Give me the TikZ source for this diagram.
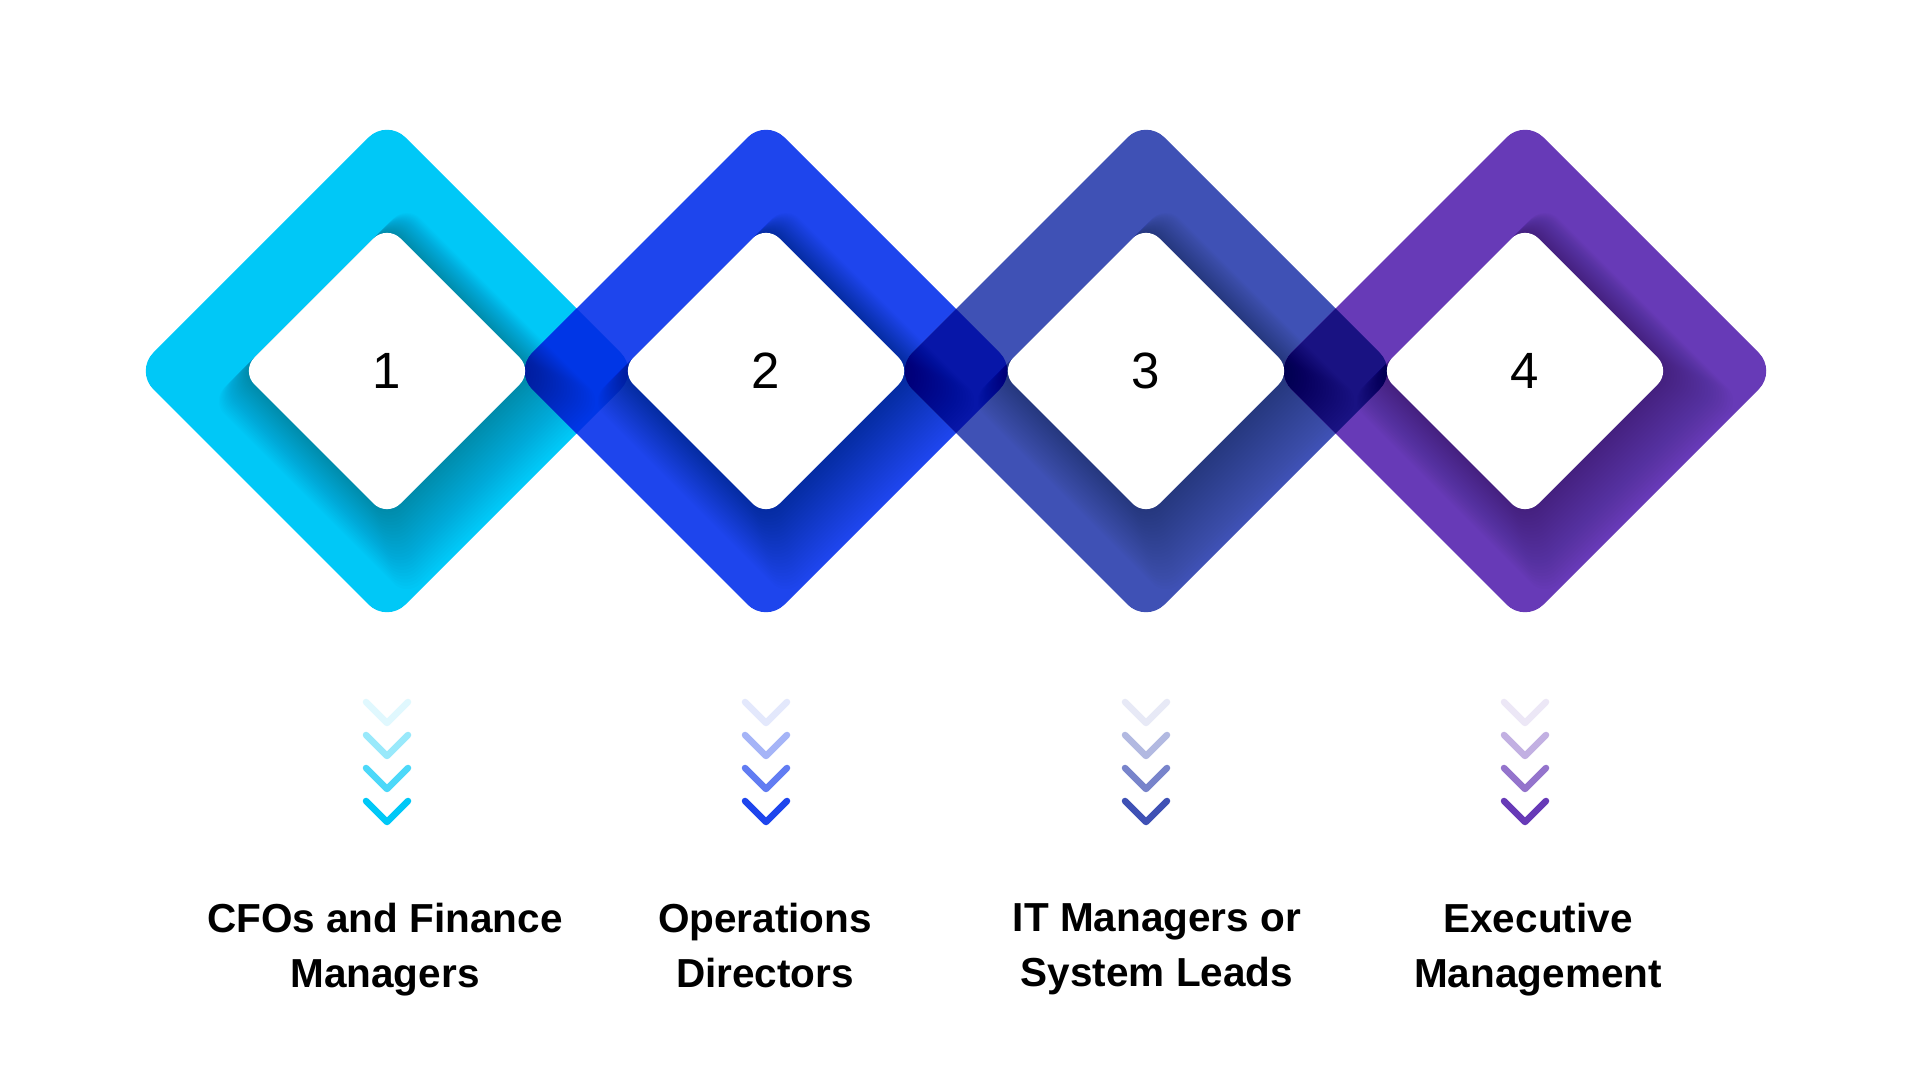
\documentclass[tikz,border=0pt]{standalone}
\usepackage{fontspec}
\setmainfont{Liberation Sans}
\usetikzlibrary{calc}

\definecolor{cyanA}{HTML}{00C8F7}
\definecolor{blueB}{HTML}{1E45ED}
\definecolor{indigoC}{HTML}{3F51B5}
\definecolor{purpleD}{HTML}{673AB7}
\definecolor{mixAB}{RGB}{0,54,230}
\definecolor{mixBC}{RGB}{7,22,168}
\definecolor{mixCD}{RGB}{25,18,130}

% rotated square around #1 with half diagonal #2
\newcommand{\rhomb}[2]{(#1) ++({(#2)/2},{(#2)/2}) -- ++({(#2)/2},{-(#2)/2}) -- ++({-(#2)},{-(#2)}) -- ++({-(#2)},{(#2)}) -- ++({(#2)},{(#2)}) -- cycle}

\begin{document}
\begin{tikzpicture}[x=1pt,y=1pt,
  chev/.style={line width=6.5pt, line cap=round, line join=round},
  num/.style={font=\fontsize{51}{51}\selectfont, inner sep=0pt},
  roletext/.style={font=\fontsize{40.5}{55}\selectfont\bfseries, align=center, anchor=north, inner sep=0pt}]
\useasboundingbox (0,0) rectangle (1920,1080);
\fill[white] (0,0) rectangle (1920,1080);

\coordinate (A) at (387,709);
\coordinate (B) at (766,709);
\coordinate (C) at (1146,709);
\coordinate (D) at (1525,709);

% rings
\foreach \p/\col in {A/cyanA,B/blueB,C/indigoC,D/purpleD}
  \fill[\col, rounded corners=26] \rhomb{\p}{252};

% overlaps
\foreach \p/\q/\col in {A/B/mixAB,B/C/mixBC,C/D/mixCD}{
  \begin{scope}
    \clip[rounded corners=26] \rhomb{\p}{252};
    \fill[\col, rounded corners=26] \rhomb{\q}{252};
  \end{scope}}

% soft shadows under the white cards
\foreach \p in {A,B,C,D}{
  \begin{scope}
    \clip[rounded corners=26] \rhomb{\p}{252};
    \foreach \k in {1,...,25}
      \fill[black, opacity=0.01, rounded corners=19] \rhomb{$(\p)+(0.8*\k,-1.2*\k)$}{146+2*\k};
  \end{scope}}

\foreach \p in {A,B,C,D}
  \fill[white, rounded corners=19] \rhomb{\p}{146};

% chevrons
\foreach \p/\col in {A/cyanA,B/blueB,C/indigoC,D/purpleD}
  \foreach \j/\op in {0/0.12,1/0.4,2/0.7,3/1}
    \draw[chev, \col, opacity=\op] ($(\p)+(-21,-331-33*\j)$) -- ++(21,-21) -- ++(21,21);

\node[num] (n1) at (A) {1};
\node[num] (n2) at (B) {2};
\node[num] (n3) at (C) {3};
\node[num] (n4) at (D) {4};

\node[roletext] (l1) at (385,177) {CFOs and Finance\\Managers};
\node[roletext] (l2) at (765,177) {Operations\\Directors};
\node[roletext] (l3) at (1157,177) {IT Managers or\\System Leads};
\node[roletext] (l4) at (1538,177) {Executive\\Management};
\end{tikzpicture}
\end{document}
